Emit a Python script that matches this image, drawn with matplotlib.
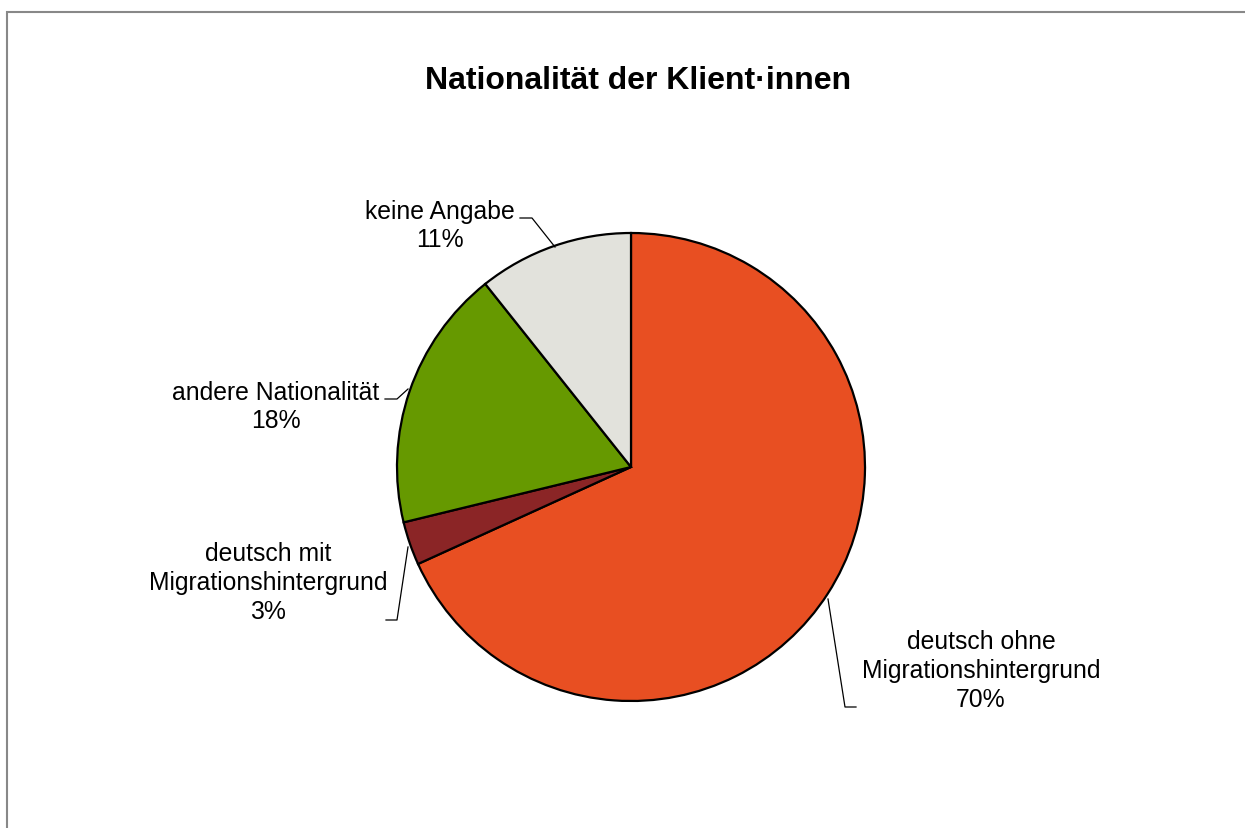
import numpy as np
import matplotlib
matplotlib.use("Agg")
import matplotlib.pyplot as plt
from matplotlib.patches import Rectangle

categories = ["deutsch ohne\nMigrationshintergrund", "deutsch mit\nMigrationshintergrund",
              "andere Nationalität", "keine Angabe"]
shares = [68.2, 3.0, 18.1, 10.7]
pct_labels = ["70%", "3%", "18%", "11%"]
colors = ["#E84F22", "#8B2526", "#669900", "#E2E2DC"]

W, H = 1245, 829
plt.rcParams['font.family'] = ['Liberation Sans', 'DejaVu Sans']

fig = plt.figure(figsize=(W / 100, H / 100), dpi=100)
ax = fig.add_axes([0, 0, 1, 1])

# outer chart frame
ax.add_patch(Rectangle((7, -10), W, H - 13 + 10, fill=False, edgecolor='#888888', lw=1.5))

cx, cy, r = 631, H - 468, 234
wedges, _ = ax.pie(shares, colors=colors, startangle=90, counterclock=False,
                   center=(cx, cy), radius=r, frame=True,
                   wedgeprops=dict(edgecolor='black', linewidth=1.6))
ax.set_xlim(0, W)
ax.set_ylim(0, H)
ax.set_aspect('equal')
ax.axis('off')

ax.text(638, H - 81, "Nationalität der Klient·innen", ha='center', va='center',
        fontsize=23, fontweight='bold')

# label anchor (text centre) and leader path (pixel coords, y from top)
label_pos = [(981, 671), (268, 583), (276, 407), (440, 226)]
leaders = [
    [(828, 600), (845, 708), (856, 708)],
    [(408, 548), (397, 621), (386, 621)],
    [(408, 390), (397, 400), (385, 400)],
    [(555, 248), (532, 219), (520, 219)],
]
for cat, pct, (tx, ty), path in zip(categories, pct_labels, label_pos, leaders):
    ax.text(tx, H - ty, cat + "\n" + pct, ha='center', va='center',
            fontsize=17.8, linespacing=1.24)
    xs = [p[0] for p in path]
    ys = [H - p[1] for p in path]
    ax.plot(xs, ys, color='black', lw=0.9)

fig.savefig("out.png", dpi=100)
